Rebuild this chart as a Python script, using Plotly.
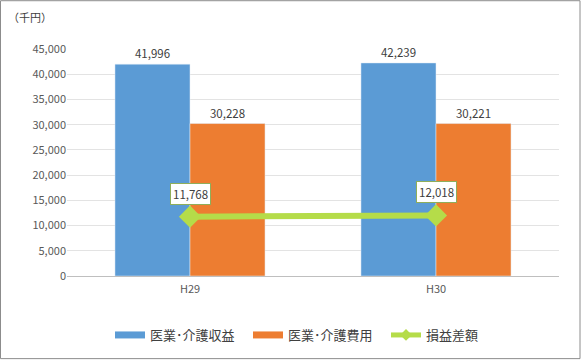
import plotly.graph_objects as go

categories = ["H29", "H30"]
revenue = [41996, 42239]
expense = [30228, 30221]
profit = [11768, 12018]
tick_vals = [0, 5000, 10000, 15000, 20000, 25000, 30000, 35000, 40000, 45000]

series_names = ["医業･介護収益", "医業･介護費用", "損益差額"]
colors = ["#5b9bd5", "#ed7d31", "#b5dc49"]

font_family = "Noto Sans CJK JP, sans-serif"

fig = go.Figure()
fig.add_trace(go.Bar(
    x=categories, y=revenue, name=series_names[0], showlegend=False,
    marker=dict(color=colors[0]),
    text=[f"{v:,}" for v in revenue], textposition="outside",
    textfont=dict(size=11.5, color="#404040"), cliponaxis=False,
))
fig.add_trace(go.Bar(
    x=categories, y=expense, name=series_names[1], showlegend=False,
    marker=dict(color=colors[1]),
    text=[f"{v:,}" for v in expense], textposition="outside",
    textfont=dict(size=11.5, color="#404040"), cliponaxis=False,
))
fig.add_trace(go.Scatter(
    x=categories, y=profit, name=series_names[2], mode="lines+markers", showlegend=False,
    line=dict(color=colors[2], width=6),
    marker=dict(symbol="diamond", size=17, color=colors[2]),
))

# legend entries drawn as line samples (like the reference)
for i in range(2):
    fig.add_trace(go.Scatter(
        x=[None], y=[None], name=series_names[i], mode="lines",
        line=dict(color=colors[i], width=7),
    ))
fig.add_trace(go.Scatter(
    x=[None], y=[None], name=series_names[2], mode="lines+markers",
    line=dict(color=colors[2], width=5),
    marker=dict(symbol="diamond", size=9, color=colors[2]),
))

for c, v in zip(categories, profit):
    fig.add_annotation(
        x=c, y=v, text=f"{v:,}", showarrow=False, yshift=23,
        bgcolor="white", bordercolor="#8fae5a", borderwidth=1, borderpad=2,
        font=dict(size=11.5, color="#404040", family=font_family),
    )

fig.add_annotation(
    xref="paper", yref="paper", x=(6 - 67) / 492, y=(277 - 17) / 228,
    xanchor="left", yanchor="middle", text="（千円）", showarrow=False,
    font=dict(size=11, color="#404040", family=font_family),
)

fig.add_shape(
    type="rect", xref="paper", yref="paper",
    x0=(0.5 - 67) / 492, x1=(580 - 67) / 492,
    y0=(277 - 360) / 228, y1=(277 - 0.5) / 228,
    line=dict(color="#8c8c8c", width=1),
)

fig.update_layout(
    width=581, height=361,
    margin=dict(l=67, r=22, t=49, b=84),
    paper_bgcolor="white", plot_bgcolor="white",
    barmode="group", bargap=0.39, bargroupgap=0,
    font=dict(family=font_family, size=11, color="#595959"),
    showlegend=True,
    legend=dict(orientation="h", x=(110 - 67) / 492, xanchor="left",
                y=(277 - 335) / 228, yanchor="middle",
                font=dict(size=13, color="#404040"), itemwidth=30,
                entrywidth=93, entrywidthmode="pixels",
                tracegroupgap=0, traceorder="normal"),
    xaxis=dict(showline=True, linecolor="#bfbfbf", ticks="outside", tickcolor="white",
               ticklen=3, tickfont=dict(size=11, color="#595959")),
    yaxis=dict(range=[0, 45000], tickvals=tick_vals, tickformat=",",
               gridcolor="#e3e3e3", zeroline=False, showline=False,
               tickfont=dict(size=11, color="#595959"), ticksuffix="  "),
)

fig.write_html("out.html", config={"displayModeBar": False},
               post_script="document.body.style.margin='0';")
